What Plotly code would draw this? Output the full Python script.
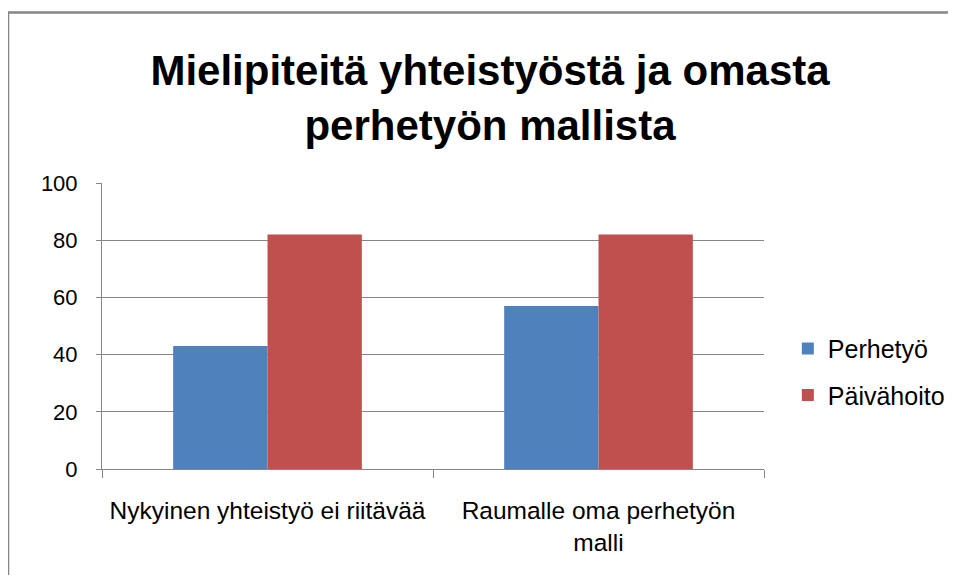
import plotly.graph_objects as go

# chart data
categories = ["Nykyinen yhteistyö ei riitävää", "Raumalle oma perhetyön<br>malli"]
perhetyo = [43, 57]
paivahoito = [82, 82]
y_ticks = [0, 20, 40, 60, 80, 100]

BLUE = "#4F81BD"
RED = "#C0504D"
GRID = "#868686"
FONT = "Liberation Sans, Arial"

# the page body has an 8px margin, so the figure is shifted/shrunk by that
W, H = 940, 567
L, T = 94, 175
PW, PH = 662, 286

fig = go.Figure()
fig.add_trace(go.Bar(x=categories, y=perhetyo, name="Perhetyö",
                     marker_color=BLUE, marker_line_width=0, legendgroup="a"))
fig.add_trace(go.Bar(x=categories, y=paivahoito, name="Päivähoito",
                     marker_color=RED, marker_line_width=0, legendgroup="b"))

fig.update_layout(
    width=W,
    height=H,
    autosize=False,
    margin=dict(l=L, r=W - L - PW, t=T, b=H - T - PH, autoexpand=False),
    paper_bgcolor="white",
    plot_bgcolor="white",
    font=dict(family=FONT, size=22, color="black"),
    barmode="group",
    bargap=0.43,
    bargroupgap=0,
    title=dict(
        text="<b>Mielipiteitä yhteistyöstä ja omasta<br>perhetyön mallista</b>",
        font=dict(family=FONT, size=42, color="black"),
        x=(482 / W), xanchor="center", xref="container",
        y=1 - (77 / H), yanchor="middle", yref="container",
    ),
    legend=dict(
        x=1.036, xanchor="left", y=0.34, yanchor="middle",
        font=dict(size=25), tracegroupgap=11,
        itemwidth=30, bgcolor="rgba(0,0,0,0)",
    ),
    showlegend=True,
)

fig.update_yaxes(
    range=[0, 100],
    tickvals=y_ticks,
    showgrid=True, gridcolor=GRID, gridwidth=1,
    showline=True, linecolor=GRID, linewidth=1,
    ticks="outside", ticklen=5, tickcolor=GRID,
    zeroline=False,
    tickfont=dict(size=22),
    ticklabelstandoff=14,
)
fig.update_xaxes(
    showline=True, linecolor=GRID, linewidth=1,
    ticks="outside", ticklen=8, tickcolor=GRID, tickson="boundaries",
    showgrid=False,
    tickangle=0,
    tickfont=dict(size=24.5),
    ticklabelstandoff=20,
)

# outer chart border
fig.add_shape(type="rect", xref="paper", yref="paper",
              x0=(0 - L) / PW, x1=1.5, y0=-0.6, y1=(T + PH - 4.5) / PH,
              line=dict(color=GRID, width=2.5), fillcolor="rgba(0,0,0,0)",
              layer="below")

fig.write_html("out.html")
